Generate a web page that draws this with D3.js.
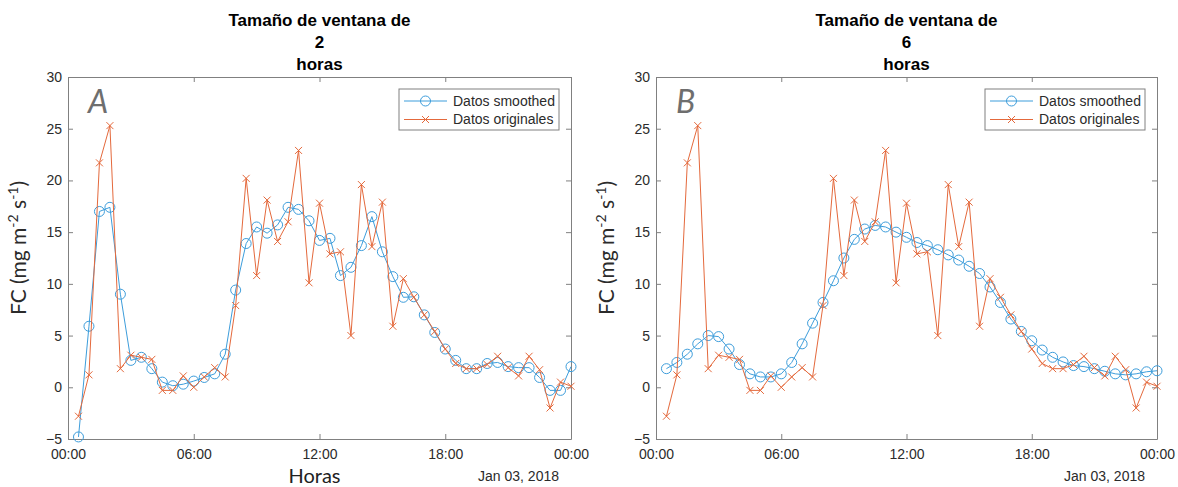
<!DOCTYPE html>
<html><head><meta charset="utf-8">
<script src="https://cdn.jsdelivr.net/npm/d3@7"></script>
<style>body{margin:0;background:#fff} svg{display:block}</style>
</head><body>
<script>
// ---- data ----
const timeLabels = ["00:30","01:00","01:30","02:00","02:30","03:00","03:30","04:00","04:30","05:00","05:30","06:00",
  "06:30","07:00","07:30","08:00","08:30","09:00","09:30","10:00","10:30","11:00","11:30","12:00",
  "12:30","13:00","13:30","14:00","14:30","15:00","15:30","16:00","16:30","17:00","17:30","18:00",
  "18:30","19:00","19:30","20:00","20:30","21:00","21:30","22:00","22:30","23:00","23:30","24:00"];
const original = [-2.8,1.2,21.7,25.3,1.8,3.1,2.9,2.7,-0.3,-0.3,1.1,0.0,
  1.0,1.9,1.0,7.9,20.2,10.8,18.1,14.1,16.0,22.9,10.1,17.8,
  12.9,13.1,5.0,19.6,13.6,17.9,5.9,10.5,8.7,7.0,5.4,3.7,
  2.3,1.8,1.8,2.2,3.0,1.9,1.1,3.0,1.7,-2.0,0.5,0.1];
const smoothed2h = [-4.8,5.9,17.0,17.4,9.0,2.6,2.9,1.8,0.5,0.15,0.3,0.6,
  0.95,1.3,3.2,9.4,13.9,15.5,14.9,15.7,17.4,17.2,16.1,14.2,
  14.4,10.8,11.6,13.7,16.5,13.1,10.7,8.7,8.75,7.0,5.3,3.7,
  2.6,1.8,1.8,2.3,2.4,2.0,1.9,1.9,0.95,-0.3,-0.3,2.0];
const smoothed6h = [1.8,2.4,3.2,4.2,5.0,4.9,3.7,2.2,1.3,1.0,1.0,1.3,
  2.4,4.2,6.2,8.2,10.3,12.5,14.3,15.3,15.65,15.5,15.0,14.5,
  14.0,13.7,13.3,12.8,12.3,11.7,11.0,9.7,8.2,6.6,5.4,4.5,
  3.6,2.9,2.45,2.1,2.0,1.8,1.55,1.3,1.2,1.3,1.5,1.6];
const xTickValues = [0,6,12,18,24];
const xTickLabels = ["00:00","06:00","12:00","18:00","00:00"];
const yTickValues = [-5,0,5,10,15,20,25,30];
const legendLabels = ["Datos smoothed","Datos originales"];
const windowSizes = ["2","6"];
const panelLetters = ["A","B"];
const dateLabel = "Jan 03, 2018";
const xAxisTitle = "Horas";

// ---- drawing ----
const W = 1178, H = 487;
const BLUE = "#3d9ddb", ORANGE = "#e4693c", AXC = "#808080", TXT = "#2b2b2b";
const hours = timeLabels.map(t => +t.slice(0,2) + (+t.slice(3))/60);
const svg = d3.select("body").append("svg").attr("width", W).attr("height", H)
  .style("font-family", "'Liberation Sans', Arial, sans-serif");

const panels = [
  {left:68, right:571, smooth:smoothed2h, win:windowSizes[0], letter:panelLetters[0], xlabel:true},
  {left:656, right:1157, smooth:smoothed6h, win:windowSizes[1], letter:panelLetters[1], xlabel:false}
];
const plotTop = 77, plotBottom = 439;

panels.forEach(p => {
  const x = d3.scaleLinear().domain([0,24]).range([p.left, p.right]);
  const y = d3.scaleLinear().domain([-5,30]).range([plotBottom, plotTop]);
  const g = svg.append("g");
  const cx = (p.left + p.right)/2;

  // title
  const tl = ["Tamaño de ventana de", p.win, "horas"];
  tl.forEach((t,i) => g.append("text").attr("x", cx).attr("y", 26 + i*22)
    .attr("text-anchor","middle").attr("font-weight","bold").attr("font-size",17)
    .attr("fill","#000").text(t));

  // axes
  const ax = d3.axisBottom(x).tickValues(xTickValues).tickFormat((d,i)=>xTickLabels[i])
    .tickSizeInner(-5).tickSizeOuter(0).tickPadding(10.5);
  const gx = g.append("g").attr("transform",`translate(0,${plotBottom})`).call(ax);
  const axT = d3.axisTop(x).tickValues(xTickValues).tickFormat("").tickSizeInner(-5).tickSizeOuter(0);
  const gxt = g.append("g").attr("transform",`translate(0,${plotTop})`).call(axT);
  const ay = d3.axisLeft(y).tickValues(yTickValues).tickSizeInner(-5).tickSizeOuter(0).tickPadding(6);
  const gy = g.append("g").attr("transform",`translate(${p.left},0)`).call(ay);
  const ayR = d3.axisRight(y).tickValues(yTickValues).tickFormat("").tickSizeInner(-5).tickSizeOuter(0);
  const gyr = g.append("g").attr("transform",`translate(${p.right},0)`).call(ayR);
  [gx,gxt,gy,gyr].forEach(a => {
    a.select(".domain").attr("stroke", AXC);
    a.selectAll(".tick line").attr("stroke", AXC);
    a.selectAll("text").attr("font-size",14).attr("fill",TXT)
      .attr("font-family","'Liberation Sans', Arial, sans-serif");
  });

  // y label
  const yl = g.append("text").attr("transform",`translate(${p.left-42},248) rotate(-90)`)
    .attr("text-anchor","middle").attr("font-family","Lato, sans-serif").attr("font-size",21)
    .attr("fill",TXT);
  yl.append("tspan").text("FC (mg m");
  yl.append("tspan").attr("dy",-8).attr("font-size",14).text("-2");
  yl.append("tspan").attr("dy",8).text(" s");
  yl.append("tspan").attr("dy",-8).attr("font-size",14).text("-1");
  yl.append("tspan").attr("dy",8).text(")");

  if (p.xlabel) {
    g.append("text").attr("x", cx-5).attr("y", 482.5).attr("text-anchor","middle")
      .attr("font-family","Lato, sans-serif").attr("font-size",20).attr("fill","#222").text(xAxisTitle);
  }
  g.append("text").attr("x", p.right-12).attr("y", 481).attr("text-anchor","end")
    .attr("font-size",14).attr("fill",TXT).text(dateLabel);

  // letter
  g.append("text").attr("x", p.left+20).attr("y", 113).attr("font-family","Lato, sans-serif")
    .attr("font-style","italic").attr("font-size",32).attr("fill","#6e6e6e").text(p.letter);

  // series
  const line = d3.line().x((d,i)=>x(hours[i])).y(d=>y(d));
  g.append("path").datum(p.smooth).attr("d", line).attr("fill","none").attr("stroke",BLUE).attr("stroke-width",1);
  g.selectAll("circle.s").data(p.smooth).join("circle").attr("class","s")
    .attr("cx",(d,i)=>x(hours[i])).attr("cy",d=>y(d)).attr("r",5)
    .attr("fill","none").attr("stroke",BLUE).attr("stroke-width",1);
  g.append("path").datum(original).attr("d", line).attr("fill","none").attr("stroke",ORANGE).attr("stroke-width",1);
  const cs = 3.5;
  g.selectAll("path.x").data(original).join("path").attr("class","x")
    .attr("d",(d,i)=>{const px=x(hours[i]), py=y(d);
      return `M${px-cs},${py-cs}L${px+cs},${py+cs}M${px-cs},${py+cs}L${px+cs},${py-cs}`;})
    .attr("stroke",ORANGE).attr("stroke-width",1).attr("fill","none");

  // legend
  const lw = 160, lh = 41;
  const lg = g.append("g").attr("transform",`translate(${p.right-12-lw},${plotTop+12})`);
  lg.append("rect").attr("width",lw).attr("height",lh).attr("fill","#fff").attr("stroke",AXC);
  [BLUE, ORANGE].forEach((c,i) => {
    const ry = 12 + i*18.5;
    lg.append("line").attr("x1",5).attr("x2",48).attr("y1",ry).attr("y2",ry).attr("stroke",c);
    if (i===0) lg.append("circle").attr("cx",26.5).attr("cy",ry).attr("r",5).attr("fill","none").attr("stroke",c);
    else lg.append("path").attr("d",`M${26.5-cs},${ry-cs}L${26.5+cs},${ry+cs}M${26.5-cs},${ry+cs}L${26.5+cs},${ry-cs}`).attr("stroke",c);
    lg.append("text").attr("x",54).attr("y",ry).attr("dy","0.35em").attr("font-size",14).attr("fill",TXT).text(legendLabels[i]);
  });
});
</script>
</body></html>
